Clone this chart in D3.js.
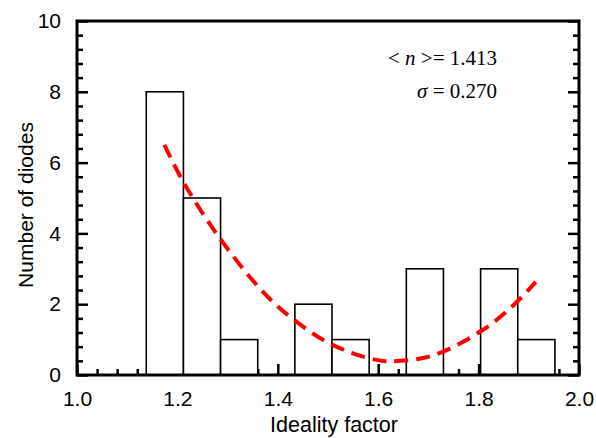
<!DOCTYPE html>
<html>
<head>
<meta charset="utf-8">
<script src="https://cdn.jsdelivr.net/npm/d3@7"></script>
<style>
  body { margin: 0; background: #fff; }
  svg { display: block; }
</style>
</head>
<body>
<script>
// histogram bins (edges) and counts
const binEdges = [1.138, 1.212, 1.286, 1.360, 1.434, 1.508, 1.582, 1.656, 1.730, 1.804, 1.878, 1.952]
const counts = [8, 5, 1, 0, 2, 1, 0, 3, 0, 3, 1]

// dashed fit curve
const fitX = [1.174, 1.212, 1.281, 1.371, 1.433, 1.509, 1.599, 1.645, 1.711, 1.808, 1.870, 1.914]
const fitY = [6.50, 5.45, 3.93, 2.34, 1.55, 0.85, 0.42, 0.40, 0.56, 1.27, 1.98, 2.63]

const xMajor = [1.0, 1.2, 1.4, 1.6, 1.8, 2.0]
const yMajor = [0, 2, 4, 6, 8, 10]

const width = 596, height = 438
const m = {left: 77, right: 17, top: 21, bottom: 63}

const svg = d3.select("body").append("svg")
  .attr("width", width).attr("height", height)

const x = d3.scaleLinear().domain([1, 2]).range([m.left, width - m.right])
const y = d3.scaleLinear().domain([0, 10]).range([height - m.bottom, m.top])

const sans = "'Liberation Sans', Arial, sans-serif"

let xMinor = d3.range(0, 26).map(i => 1 + i * 0.04).filter(v => xMajor.every(t => Math.abs(t - v) > 1e-6))
let yMinor = d3.range(0, 26).map(i => i * 0.4).filter(v => yMajor.every(t => Math.abs(t - v) > 1e-6))

let styleAxis = function(g) {
  g.select(".domain").remove()
  g.selectAll(".tick line").attr("stroke", "#000").attr("stroke-width", 2.5)
  g.selectAll("text").attr("font-family", sans).attr("font-size", 21).attr("fill", "#000")
}

// bottom axis (ticks inward)
svg.append("g").attr("transform", `translate(0,${y(0)})`)
  .call(d3.axisBottom(x).tickValues(xMajor).tickSize(-11).tickPadding(16).tickFormat(d3.format(".1f")))
  .call(styleAxis)
svg.append("g").attr("transform", `translate(0,${y(0)})`)
  .call(d3.axisBottom(x).tickValues(xMinor).tickSize(-6).tickFormat(""))
  .call(styleAxis)

// left axis
svg.append("g").attr("transform", `translate(${x(1)},0)`)
  .call(d3.axisLeft(y).tickValues(yMajor).tickSize(-11).tickPadding(16))
  .call(styleAxis)
svg.append("g").attr("transform", `translate(${x(1)},0)`)
  .call(d3.axisLeft(y).tickValues(yMinor).tickSize(-6).tickFormat(""))
  .call(styleAxis)

// right axis
svg.append("g").attr("transform", `translate(${x(2)},0)`)
  .call(d3.axisRight(y).tickValues(yMajor).tickSize(-11).tickFormat(""))
  .call(styleAxis)
svg.append("g").attr("transform", `translate(${x(2)},0)`)
  .call(d3.axisRight(y).tickValues(yMinor).tickSize(-6).tickFormat(""))
  .call(styleAxis)

// bars
let bins = counts.map((c, i) => ({x0: binEdges[i], x1: binEdges[i + 1], n: c})).filter(d => d.n > 0)
svg.append("g").selectAll("rect").data(bins).join("rect")
  .attr("x", d => x(d.x0))
  .attr("y", d => y(d.n))
  .attr("width", d => x(d.x1) - x(d.x0))
  .attr("height", d => y(0) - y(d.n))
  .attr("fill", "#fff")
  .attr("stroke", "#000")
  .attr("stroke-width", 1.6)

// fit curve
let line = d3.line().x(d => x(d[0])).y(d => y(d[1])).curve(d3.curveCatmullRom)
svg.append("path")
  .datum(fitX.map((v, i) => [v, fitY[i]]))
  .attr("d", line)
  .attr("fill", "none")
  .attr("stroke", "#ff0000")
  .attr("stroke-width", 4)
  .attr("stroke-dasharray", "14,8")

// frame
svg.append("rect")
  .attr("x", x(1)).attr("y", y(10))
  .attr("width", x(2) - x(1)).attr("height", y(0) - y(10))
  .attr("fill", "none").attr("stroke", "#000").attr("stroke-width", 3)

// axis titles
svg.append("text")
  .attr("x", (x(1) + x(2)) / 2 + 6).attr("y", 432)
  .attr("text-anchor", "middle")
  .attr("font-family", sans).attr("font-size", 21.5)
  .text("Ideality factor")

svg.append("text")
  .attr("transform", `translate(33,${(y(0) + y(10)) / 2 + 7}) rotate(-90)`)
  .attr("text-anchor", "middle")
  .attr("font-family", sans).attr("font-size", 21)
  .text("Number of diodes")

// statistics
const serif = "'Liberation Serif', 'Times New Roman', serif"
let t1 = svg.append("text").attr("x", 497).attr("y", 65).attr("text-anchor", "end")
  .attr("font-family", serif).attr("font-size", 21)
t1.append("tspan").text("< ")
t1.append("tspan").attr("font-style", "italic").text("n")
t1.append("tspan").text(" >= 1.413")

let t2 = svg.append("text").attr("x", 497).attr("y", 98).attr("text-anchor", "end")
  .attr("font-family", serif).attr("font-size", 21)
t2.append("tspan").attr("font-style", "italic").text("σ")
t2.append("tspan").text(" = 0.270")
</script>
</body>
</html>
